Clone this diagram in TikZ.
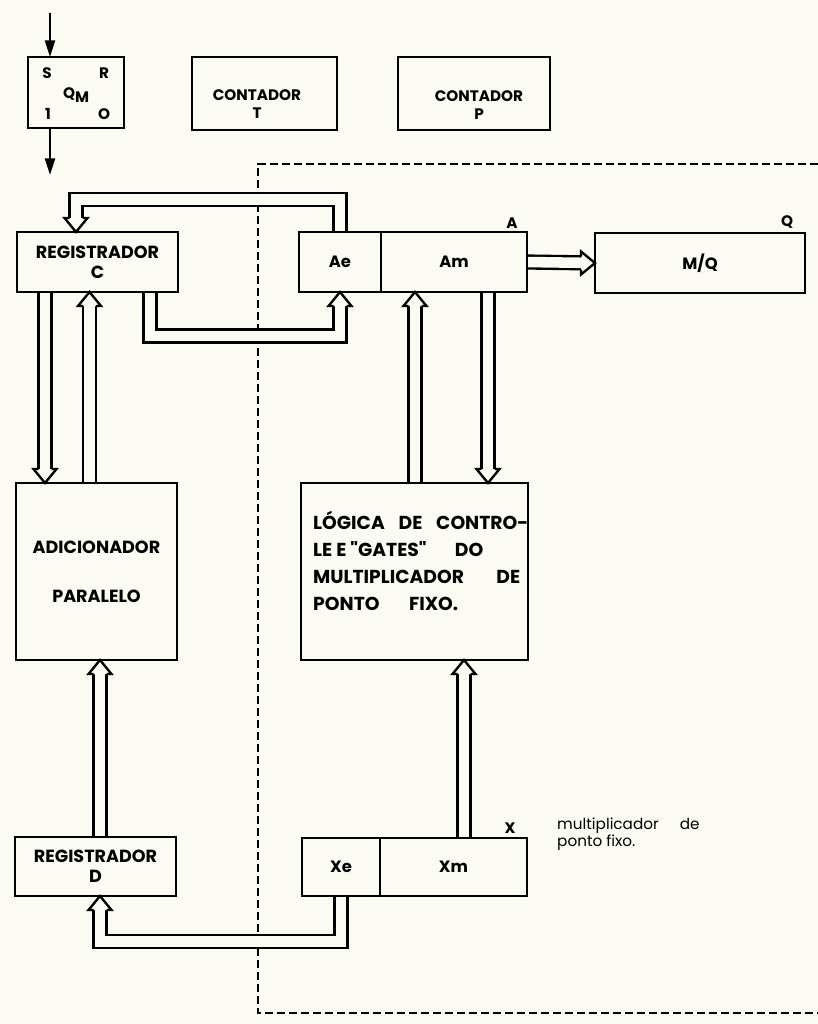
\documentclass[tikz,border=0pt]{standalone}
\usepackage{fontspec}
\setmainfont{Poppins}
\usetikzlibrary{positioning, arrows.meta, calc}
\definecolor{paper}{RGB}{251,251,243}
\pgfdeclarelayer{sheet}
\pgfdeclarelayer{wires}
\pgfsetlayers{sheet,wires,main}

\begin{document}
\begin{tikzpicture}[x=0.03cm, y=-0.03cm, line width=2pt, every node/.style={font=\bfseries\fontsize{14}{17}\selectfont}]
\tikzset{
  reg/.style={draw, line width=2pt, outer sep=0pt, inner sep=0pt, minimum height=1.8cm, align=center},
  bus/.style={double=paper, double distance=9pt, line width=2pt, line join=miter, shorten >=0.42cm},
  bushead/.pic={\filldraw[fill=paper, line width=2pt, line join=miter] (-14,-6.5) -- (-14,-11.5) -- (0,0) -- (-14,11.5) -- (-14,6.5);},
  sig/.style={line width=2pt, -{Triangle[length=5mm, width=3mm]}},
  frame/.style={line width=1.8pt, dash pattern=on 2.4mm off 1.2mm},
  bigtext/.style={font=\bfseries\fontsize{15}{17}\selectfont},
  smalltext/.style={font=\bfseries\fontsize{13}{16}\selectfont},
}
\begin{pgfonlayer}{sheet}
  \fill[paper] (0,0) rectangle (818,1024);
\end{pgfonlayer}
\useasboundingbox (0,0) rectangle (818,1024);
% flip-flop and counters
\node[reg, minimum width=2.88cm, minimum height=2.13cm] (ff) at (76,92.5) {};
\node[smalltext] (ffs) at (47,73) {S};
\node[smalltext] (ffr) at (104,73) {R};
\node[smalltext] (ffq) at (76,95) {Q\raisebox{-0.5ex}{M}};
\node[smalltext] (ffone) at (48,114) {1};
\node[smalltext] (ffzero) at (104,114) {O};
\coordinate (ffin) at (50,13);
\coordinate (ffout) at (50,175);
\draw[sig] (ffin) -- (ff.north -| ffin);
\draw[sig] (ff.south -| ffin) -- (ffout);
\node[reg, minimum width=4.35cm, minimum height=2.19cm] (cntt) at (264.5,93.5) {};
\node[smalltext, align=center] (cntttxt) at (257,104) {CONTADOR\\T};
\node[reg, minimum width=4.56cm, minimum height=2.19cm] (cntp) at (474,93.5) {};
\node[smalltext, align=center] (cntptxt) at (479,105) {CONTADOR\\P};
% registers
\node[reg, bigtext, minimum width=4.83cm] (regc) at (97.5,262) {REGISTRADOR\\C};
\node[reg, minimum width=2.46cm] (ae) at (340,262) {Ae};
\node[reg, minimum width=4.38cm, right=0pt of ae] (am) {Am};
\node[smalltext] (lbla) at (512,223) {A};
\node[reg, minimum width=6.3cm] (mq) at (700,263) {M/Q};
\node[smalltext] (lblq) at (787,222) {Q};
\node[reg, bigtext, minimum width=4.83cm, minimum height=5.31cm] (adic) at (96.5,571.5) {ADICIONADOR\\[25pt]PARALELO};
\node[reg, minimum width=6.81cm, minimum height=5.31cm] (logica) at (414.5,571.5) {};
\node[font=\bfseries\fontsize{16}{23}\selectfont, anchor=west, align=left, inner sep=0pt] (logtxt) at (313,561)
  {\makebox[6.45cm][s]{LÓGICA\hfill DE\hfill CONTRO-}\\
   \makebox[5.1cm][s]{LE E \textquotedbl GATES\textquotedbl\hfill DO}\\
   \makebox[6.21cm][s]{MULTIPLICADOR\hfill DE}\\
   \makebox[4.35cm][s]{PONTO\hfill FIXO.}};
\node[reg, bigtext, minimum width=4.83cm, minimum height=1.77cm] (regd) at (95.5,866.5) {REGISTRADOR\\D};
\node[reg, minimum width=2.34cm, minimum height=1.74cm] (xe) at (341,867) {Xe};
\node[reg, minimum width=4.41cm, minimum height=1.74cm, right=0pt of xe] (xm) {Xm};
\node[smalltext] (lblx) at (510,828) {X};
\node[font=\fontsize{13}{9.5}\selectfont, anchor=west, align=left, inner sep=0pt] (xnote) at (557,834) {multiplicador\hspace{18pt}de\\ponto fixo.};
% bus lanes
\coordinate (lnCA) at (45,0);
\coordinate (lnAC) at (89.5,0);
\coordinate (lnDA) at (100,0);
\coordinate (lnLA) at (415,0);
\coordinate (lnAL) at (488,0);
\coordinate (lnXL) at (464,0);
\coordinate (ctop) at (76,199.5);
\coordinate (cbot) at (150,336);
\coordinate (xbot) at (100,941.5);
\begin{pgfonlayer}{wires}
% dashed frame
\draw[frame] (818,164) -| (258,1013) -- (818,1013);
% buses
\draw[bus] (regc.south -| lnCA) -- (adic.north -| lnCA);
\pic[rotate=-90] at (adic.north -| lnCA) {bushead};
\draw[bus] (adic.north -| lnAC) -- (regc.south -| lnAC);
\pic[rotate=90] at (regc.south -| lnAC) {bushead};
\draw[bus] (regd.north -| lnDA) -- (adic.south -| lnDA);
\pic[rotate=90] at (adic.south -| lnDA) {bushead};
\draw[bus] (logica.north -| lnLA) -- (am.south -| lnLA);
\pic[rotate=90] at (am.south -| lnLA) {bushead};
\draw[bus] (am.south -| lnAL) -- (logica.north -| lnAL);
\pic[rotate=-90] at (logica.north -| lnAL) {bushead};
\draw[bus] (xm.north -| lnXL) -- (logica.south -| lnXL);
\pic[rotate=90] at (logica.south -| lnXL) {bushead};
\draw[bus] (am.east) -- (mq.west);
\pic at (mq.west) {bushead};
\draw[bus] (ae.north) |- (ctop) -- (regc.north -| ctop);
\pic[rotate=-90] at (regc.north -| ctop) {bushead};
\draw[bus] (regc.south -| cbot) |- (ae.south |- cbot) -- (ae.south);
\pic[rotate=90] at (ae.south) {bushead};
\draw[bus] (xe.south) |- (xbot) -- (regd.south -| xbot);
\pic[rotate=90] at (regd.south -| xbot) {bushead};
\end{pgfonlayer}
\end{tikzpicture}
\end{document}
